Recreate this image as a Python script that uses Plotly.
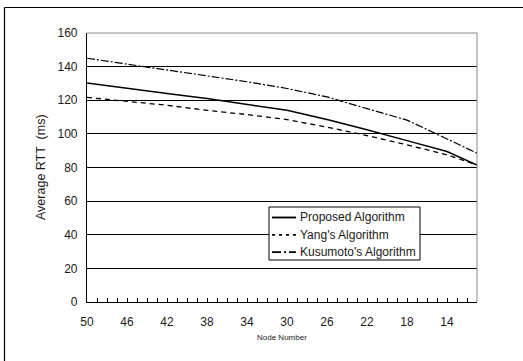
import plotly.graph_objects as go

nodes = [50, 46, 42, 38, 34, 30, 26, 22, 18, 14, 11]
proposed = [130.3, 127.0, 124.0, 121.0, 117.5, 114.0, 108.5, 102.5, 96.0, 89.5, 81.5]
yang = [121.7, 119.5, 117.0, 114.0, 111.5, 108.5, 104.0, 99.0, 93.5, 87.5, 81.5]
kusumoto = [145.0, 141.5, 138.0, 134.5, 131.0, 127.0, 122.0, 115.0, 108.2, 97.0, 88.5]
series_names = ["Proposed Algorithm", "Yang's Algorithm", "Kusumoto's Algorithm"]
x_tick_labels = [50, 46, 42, 38, 34, 30, 26, 22, 18, 14]
y_ticks = [0, 20, 40, 60, 80, 100, 120, 140, 160]

W, H = 523, 361
L, R, T, B = 87, 46, 33, 59
pw, ph = W - L - R, H - T - B

def px(x):
    return (x - L) / pw

def py(y):
    return (H - B - y) / ph

FONT = "Liberation Sans, Arial, sans-serif"
TXT = "#1a1a1a"
dashes = ["solid", "5px,4px", "8px,2px,2px,2px"]
legend_dashes = ["solid", "3px,4px", "9px,3px,2px,3px"]
widths = [1.5, 1.3, 1.2]

fig = go.Figure()
for name, ys, d, w in zip(series_names, [proposed, yang, kusumoto], dashes, widths):
    fig.add_trace(go.Scatter(x=nodes, y=ys, mode="lines", name=name,
                             line=dict(color="black", width=w, dash=d)))

fig.update_layout(
    width=W, height=H,
    margin=dict(l=L, r=R, t=T, b=B, pad=0),
    paper_bgcolor="white", plot_bgcolor="white",
    font=dict(family=FONT, color=TXT, size=12),
    showlegend=False,
    xaxis=dict(range=[50, 11], autorange=False,
               tickvals=x_tick_labels, ticktext=[str(v) for v in x_tick_labels],
               ticks="inside", ticklen=4, tickcolor="black", tickwidth=1,
               minor=dict(dtick=1, tick0=0, ticks="inside", ticklen=4, tickcolor="black", tickwidth=1,
                          showgrid=False),
               showgrid=False, zeroline=False, showline=True, linecolor="black", linewidth=1.2,
               tickfont=dict(size=12, family=FONT, color=TXT), ticklabelstandoff=8),
    yaxis=dict(range=[0, 160], autorange=False, tickvals=y_ticks,
               showgrid=True, gridcolor="black", gridwidth=1,
               zeroline=False, showline=True, linecolor="black", linewidth=1.2,
               ticks="", tickfont=dict(size=12, family=FONT, color=TXT), ticklabelstandoff=6),
)

# plot area top/right border (gray)
fig.add_shape(type="line", xref="paper", yref="paper", x0=0, x1=1, y0=1, y1=1,
              line=dict(color="#8a8a8a", width=1))
fig.add_shape(type="line", xref="paper", yref="paper", x0=1, x1=1, y0=0, y1=1,
              line=dict(color="#8a8a8a", width=1))
# outer chart frame (left and top visible)
fig.add_shape(type="line", xref="paper", yref="paper", x0=px(4.5), x1=px(530), y0=py(7.5), y1=py(7.5),
              line=dict(color="black", width=1.2))
fig.add_shape(type="line", xref="paper", yref="paper", x0=px(4.5), x1=px(4.5), y0=py(7.5), y1=py(370),
              line=dict(color="black", width=1.2))

# custom legend box
lx0, lx1, ly0, ly1 = 269, 420, 207, 260
fig.add_shape(type="rect", xref="paper", yref="paper", x0=px(lx0), x1=px(lx1), y0=py(ly0), y1=py(ly1),
              line=dict(color="black", width=1), fillcolor="white", layer="above")
for i, (name, d, w) in enumerate(zip(series_names, legend_dashes, widths)):
    yy = 217.5 + i * 17.3
    fig.add_shape(type="line", xref="paper", yref="paper", x0=px(272), x1=px(296), y0=py(yy), y1=py(yy),
                  line=dict(color="black", width=w + 0.4, dash=d), layer="above")
    fig.add_annotation(text=name, xref="paper", yref="paper", x=px(298), y=py(yy),
                       showarrow=False, font=dict(size=12, family=FONT, color=TXT),
                       xanchor="left", yanchor="middle")

fig.add_annotation(text="Average RTT  (ms)", xref="paper", yref="paper", x=px(41), y=py(167),
                   textangle=-90, showarrow=False, font=dict(size=12.5, family=FONT, color=TXT),
                   xanchor="center", yanchor="middle")
fig.add_annotation(text="Node Number", xref="paper", yref="paper", x=px(282), y=py(337),
                   showarrow=False, font=dict(size=8, family=FONT, color=TXT),
                   xanchor="center", yanchor="middle")

fig.write_html("out.html")
